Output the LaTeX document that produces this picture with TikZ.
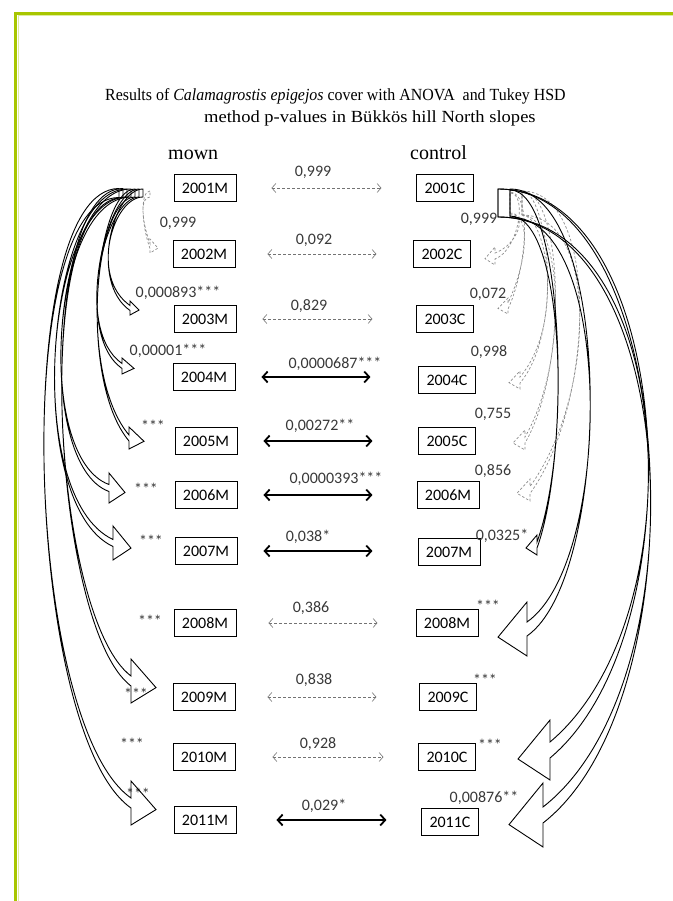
\documentclass[tikz,border=0pt]{standalone}
\usepackage{fontspec}
\setmainfont{Liberation Serif}
\newfontfamily\carl{Carlito}
\usetikzlibrary{calc,arrows.meta}
\definecolor{frame}{RGB}{168,198,0}
\definecolor{framelight}{RGB}{222,236,160}
\begin{document}
\begin{tikzpicture}[x=1pt,y=-1pt,
  box/.style={draw, line width=0.8pt, font=\carl\fontsize{16}{18}\selectfont, minimum height=27pt, inner xsep=8pt, inner ysep=0pt},
  pv/.style={font=\carl\fontsize{16}{18}\selectfont, text=black!78, anchor=base, inner sep=0pt},
  sband/.style={draw=black, line width=0.9pt, line join=miter},
  dband/.style={draw=black!45, line width=0.7pt, dash pattern=on 2.5pt off 2pt},
  darr/.style={draw=black!55, line width=0.6pt, dash pattern=on 3pt off 2pt,
     {Straight Barb[length=4pt,width=9pt]}-{Straight Barb[length=4pt,width=9pt]}},
  sarr/.style={draw=black, line width=1.8pt,
     {Straight Barb[length=5pt,width=11pt]}-{Straight Barb[length=5pt,width=11pt]}}
]
\useasboundingbox (0,0) rectangle (672,901);
% frame
\draw[framelight, line width=1pt] (18,905) -- (18,16) -- (680,16);
\draw[frame, line width=3pt] (15.5,905) -- (15.5,13.5) -- (680,13.5);

% titles
\node[anchor=base west, inner sep=0pt, font=\fontsize{17}{20}\selectfont] (t1) at (105,101)
  {\scalebox{0.937}[1]{Results of \textit{Calamagrostis epigejos} cover with ANOVA\ \ and Tukey HSD}};
\node[anchor=base west, inner sep=0pt, font=\fontsize{17}{20}\selectfont] (t2) at (204,123)
  {\scalebox{1.09}[1]{method p-values in Bükkös hill North slopes}};
\node[anchor=base west, inner sep=0pt, font=\fontsize{20}{24}\selectfont] (hm) at (168,160) {mown};
\node[anchor=base west, inner sep=0pt, font=\fontsize{20}{24}\selectfont] (hc) at (410,160) {control};

% boxes, mown
\node[box] (m2001) at (205,188) {2001M};
\node[box] (m2002) at (204,254) {2002M};
\node[box] (m2003) at (205,319) {2003M};
\node[box] (m2004) at (204,377) {2004M};
\node[box] (m2005) at (206,441) {2005M};
\node[box] (m2006) at (206,495) {2006M};
\node[box] (m2007) at (206,551) {2007M};
\node[box] (m2008) at (205,623) {2008M};
\node[box] (m2009) at (204,697) {2009M};
\node[box] (m2010) at (204,757) {2010M};
\node[box] (m2011) at (205,820) {2011M};
% boxes, control
\node[box] (c2001) at (445,188) {2001C};
\node[box] (c2002) at (442,254) {2002C};
\node[box] (c2003) at (445,319) {2003C};
\node[box] (c2004) at (447,380) {2004C};
\node[box] (c2005) at (447,441) {2005C};
\node[box] (c2006) at (448,495) {2006M};
\node[box] (c2007) at (449,552) {2007M};
\node[box] (c2008) at (447,623) {2008M};
\node[box] (c2009) at (448,697) {2009C};
\node[box] (c2010) at (447,757) {2010C};
\node[box] (c2011) at (450,822) {2011C};

% middle arrows
\foreach \n/\a/\b/\s in {2001/35/145/darr, 2002/32/141/darr, 2003/26/136/darr,
   2004/26/135/sarr, 2005/26/135/sarr, 2006/26/135/sarr, 2007/26/135/sarr,
   2008/32/141/darr, 2009/32/141/darr, 2010/37/148/darr, 2011/40/150/sarr}
  \draw[\s] ($(m\n.east)+(\a,0)$) -- ($(m\n.east)+(\b,0)$);

% middle labels
\node[pv] (p01) at (313,177) {0,999};
\node[pv] (p02) at (314,244) {0,092};
\node[pv] (p03) at (309,310) {0,829};
\node[pv] (p04) at (335,368) {0,0000687***};
\node[pv] (p05) at (320,430) {0,00272**};
\node[pv] (p06) at (336,483) {0,0000393***};
\node[pv] (p07) at (308,541) {0,038*};
\node[pv] (p08) at (311,612) {0,386};
\node[pv] (p09) at (314,684) {0,838};
\node[pv] (p10) at (318,748) {0,928};
\node[pv] (p11) at (324,810) {0,029*};

% left labels
\node[pv] (lp02) at (178,227) {0,999};
\node[pv] (lp03) at (178,297) {0,000893***};
\node[pv] (lp04) at (168,355) {0,00001***};
\node[pv] (lp05) at (153,431) {***};
\node[pv] (lp06) at (146,494) {***};
\node[pv] (lp07) at (151,546) {***};
\node[pv] (lp08) at (150,626) {***};
\node[pv] (lp09) at (136,699) {***};
\node[pv] (lp10) at (132,749) {***};
\node[pv] (lp11) at (138,799) {***};
% right labels
\node[pv] (rp02) at (479,224) {0,999};
\node[pv] (rp03) at (488,298) {0,072};
\node[pv] (rp04) at (489,356) {0,998};
\node[pv] (rp05) at (493,418) {0,755};
\node[pv] (rp06) at (493,475) {0,856};
\node[pv] (rp07) at (502,540) {0,0325*};
\node[pv] (rp08) at (488,611) {***};
\node[pv] (rp09) at (485,685) {***};
\node[pv] (rp10) at (490,750) {***};
\node[pv] (rp11) at (484,802) {0,00876**};

% tails and heads of the curved block arrows
\coordinate (lt2) at (150,194);  \coordinate (lh2) at (150,246);
\coordinate (lt3) at (143,193);  \coordinate (lh3) at (130,308);
\coordinate (lt4) at (139,193);  \coordinate (lh4) at (122,366);
\coordinate (lt5) at (135,193);  \coordinate (lh5) at (129,438);
\coordinate (lt6) at (131,193);  \coordinate (lh6) at (109,488);
\coordinate (lt7) at (127,193);  \coordinate (lh7) at (113,543);
\coordinate (lt9) at (123,193);  \coordinate (lh9) at (131,681);
\coordinate (lt11) at (119,193); \coordinate (lh11) at (131,803);
\coordinate (rt2) at (510,203);  \coordinate (rh2) at (495,256);
\coordinate (rt3) at (510,203);  \coordinate (rh3) at (508,306);
\coordinate (rt4) at (522,203);  \coordinate (rh4) at (520,380);
\coordinate (rt5) at (522,203);  \coordinate (rh5) at (525,440);
\coordinate (rt6) at (522,203);  \coordinate (rh6) at (530,490);
\coordinate (rt7) at (510,203);  \coordinate (rh7) at (537,545);
\coordinate (rt8) at (510,203);  \coordinate (rh8) at (527,629);
\coordinate (rt10) at (498,203); \coordinate (rh10) at (550,750);
\coordinate (rt11) at (498,203); \coordinate (rh11) at (543,815);

\foreach \sty/\T/\sg/\tk/\tw/\E/\th/\ek/\ew/\eh/\el in {
  dband/lt2/1/10/6/lh2/70/25/5/7/8,
  sband/lt3/1/30/8/lh3/35/50/5/7/9,
  sband/lt4/1/34/8/lh4/35/60/5/8/12,
  sband/lt5/1/40/8/lh5/50/80/6/11/15,
  sband/lt6/1/80/8/lh6/20/80/7/15/16,
  sband/lt7/1/82/8/lh7/25/100/7/17/18,
  sband/lt9/1/93/9/lh9/37/100/10/22/25,
  sband/lt11/1/109/9/lh11/35/130/10/22/25,
  dband/rt2/-1/18/20/rh2/160/25/6/9/10,
  dband/rt3/-1/22/22/rh3/115/45/6/8/10,
  dband/rt4/-1/25/24/rh4/130/70/6/9/11,
  dband/rt5/-1/40/24/rh5/120/90/6/10/12,
  dband/rt6/-1/78/24/rh6/126/111/7/11/13,
  sband/rt7/-1/55/26/rh7/110/100/6/10/11,
  sband/rt8/-1/105/28/rh8/145/105/14/27/29,
  sband/rt10/-1/178/28/rh10/140/195/16/30/32,
  sband/rt11/-1/182/28/rh11/142/205/16/32/34}
{
  \draw[\sty] ($(\T)+(0,{-(\sg)*\tw/2})$)
    .. controls ($(\T)+({-(\sg)*\tk},{-(\sg)*\tw/2})$) and ($(\E)+(\th:-\ek)+(0,{(\sg)*\ew/2})$)
    .. ($(\E)+(0,{(\sg)*\ew/2})$)
    -- ($(\E)+(0,{(\sg)*\eh})$)
    -- ($(\E)+({(\sg)*\el},{0.3*\eh})$)
    -- ($(\E)+(0,{-(\sg)*\eh})$)
    -- ($(\E)+(0,{-(\sg)*\ew/2})$)
    .. controls ($(\E)+(\th:-\ek)+(0,{-(\sg)*\ew/2})$) and ($(\T)+({-(\sg)*\tk},{(\sg)*\tw/2})$)
    .. ($(\T)+(0,{(\sg)*\tw/2})$) -- cycle;
}
\end{tikzpicture}
\end{document}
